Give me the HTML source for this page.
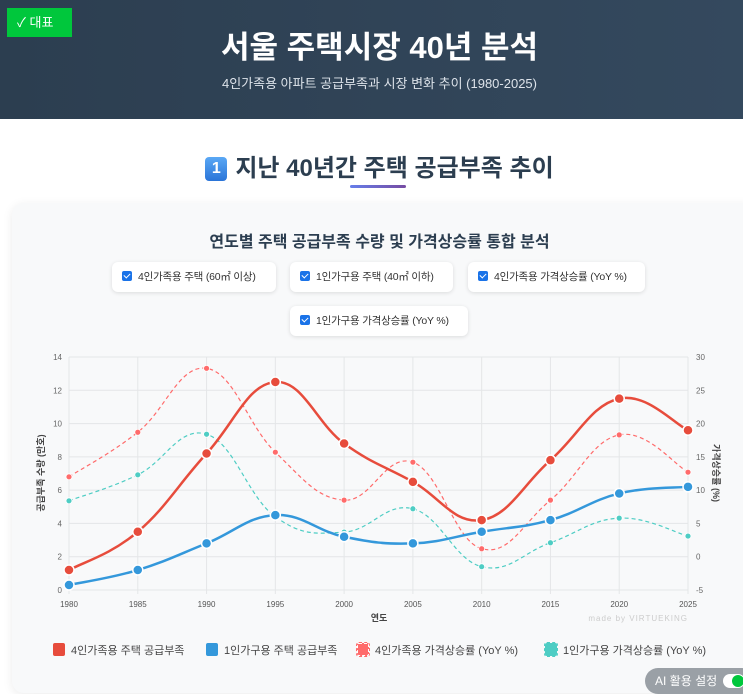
<!DOCTYPE html>
<html><head><meta charset="utf-8">
<style>
*{margin:0;padding:0;box-sizing:border-box}
body{width:743px;height:692px;overflow:hidden;background:#fff;font-family:"Liberation Sans","Noto Sans CJK KR",sans-serif;position:relative}
.hdr{position:absolute;left:0;top:0;width:743px;height:119px;background:linear-gradient(90deg,#2c3e50,#34495e);color:#fff;text-align:center}
.hdr h1{position:absolute;top:22px;left:8px;width:100%;font-size:31px;font-weight:bold}
.hdr p{position:absolute;top:73px;left:8px;width:100%;font-size:13px;color:#dde3ea}
.badge{position:absolute;left:7px;top:8px;width:65px;height:29px;background:#00c73c;color:#fff;font-size:13px;line-height:29px;padding-left:10px}
.sec{position:absolute;top:148px;left:8px;width:100%;text-align:center;font-size:24px;font-weight:bold;color:#2c3e50}
.num{display:inline-block;width:22px;height:24px;background:linear-gradient(#5aa8f5,#2a74d8);color:#fff;border-radius:4px;font-size:16px;line-height:24px;vertical-align:3px;margin-right:8px}
.uline{position:absolute;left:350px;top:185px;width:56px;height:3px;background:linear-gradient(90deg,#667eea,#764ba2);border-radius:2px}
.card{position:absolute;left:12px;top:203px;width:745px;height:490px;background:#f8f9fa;border-radius:12px;box-shadow:0 2px 10px rgba(0,0,0,.08)}
.ct{position:absolute;top:228px;width:743px;left:8px;text-align:center;font-size:16px;font-weight:bold;color:#2c3e50}
.cb{position:absolute;height:30px;background:#fff;border-radius:6px;box-shadow:0 1px 4px rgba(0,0,0,.12);font-size:10.5px;color:#333;line-height:30px;padding-left:10px;white-space:nowrap;overflow:hidden;letter-spacing:-0.2px}
.cb i{display:inline-block;width:10px;height:10px;background:#1a73e8;border-radius:2px;vertical-align:-1px;margin-right:6px;position:relative}
.cb i:after{content:"";position:absolute;left:3px;top:1px;width:3px;height:5px;border:solid #fff;border-width:0 1.5px 1.5px 0;transform:rotate(45deg)}
.lg{position:absolute;top:643px;font-size:11px;color:#444;line-height:14px;white-space:nowrap}
.lg b{display:inline-block;width:12px;height:13px;vertical-align:-2px;margin-right:6px;border-radius:2px}
.ai{position:absolute;left:645px;top:668px;width:110px;height:26px;background:#9aa0a6;border-radius:13px;color:#fff;font-size:12px;line-height:26px;padding-left:10px}
.tg{position:absolute;left:78px;top:6px;width:22px;height:14px;background:#fff;border-radius:7px}
.tg:after{content:"";position:absolute;right:1px;top:1px;width:12px;height:12px;background:#00c73c;border-radius:6px}
</style></head><body>
<div class="hdr">
<h1>서울 주택시장 40년 분석</h1>
<p>4인가족용 아파트 공급부족과 시장 변화 추이 (1980-2025)</p>
</div>
<div class="badge">✓ 대표</div>
<div class="sec"><span class="num">1</span>지난 40년간 주택 공급부족 추이</div>
<div class="uline"></div>
<div class="card"></div>
<div class="ct">연도별 주택 공급부족 수량 및 가격상승률 통합 분석</div>
<div class="cb" style="left:112px;top:262px;width:164px"><i></i>4인가족용 주택 (60㎡ 이상)</div>
<div class="cb" style="left:290px;top:262px;width:163px"><i></i>1인가구용 주택 (40㎡ 이하)</div>
<div class="cb" style="left:468px;top:262px;width:177px"><i></i>4인가족용 가격상승률 (YoY %)</div>
<div class="cb" style="left:290px;top:306px;width:178px"><i></i>1인가구용 가격상승률 (YoY %)</div>
<svg id="ch" width="743" height="692" style="position:absolute;left:0;top:0"></svg>
<div class="lg" style="left:53px"><b style="background:#e74c3c"></b>4인가족용 주택 공급부족</div>
<div class="lg" style="left:206px"><b style="background:#3498db"></b>1인가구용 주택 공급부족</div>
<div class="lg" style="left:357px"><b style="background:#ff6b6b;border:1px dashed #fff;outline:1px dashed #ff6b6b"></b>4인가족용 가격상승률 (YoY %)</div>
<div class="lg" style="left:545px"><b style="background:#4ecdc4;outline:1px dashed #4ecdc4"></b>1인가구용 가격상승률 (YoY %)</div>
<div class="ai">AI 활용 설정<span class="tg"></span></div>
<script>
const years=[1980,1985,1990,1995,2000,2005,2010,2015,2020,2025];
const supply4=[1.2,3.5,8.2,12.5,8.8,6.5,4.2,7.8,11.5,9.6];
const supply1=[0.3,1.2,2.8,4.5,3.2,2.8,3.5,4.2,5.8,6.2];
const price4=[12,18.7,28.3,15.7,8.5,14.2,1.2,8.5,18.3,12.7];
const price1=[8.4,12.3,18.4,6,3.7,7.2,-1.5,2.1,5.8,3.1];
const leftTicks=[0,2,4,6,8,10,12,14];
const rightTicks=[-5,0,5,10,15,20,25,30];
const X0=69,X1=688,YT=357,YB=590;
const xs=y=>X0+(y-1980)/(2025-1980)*(X1-X0);
const yl=v=>YB-v/14*(YB-YT);
const yr=v=>YB-(v+5)/35*(YB-YT);
const svg=document.getElementById('ch');const NS='http://www.w3.org/2000/svg';
function mk(t,a,txt){const e=document.createElementNS(NS,t);for(const k in a)e.setAttribute(k,a[k]);if(txt!=null)e.textContent=txt;svg.appendChild(e);return e;}
leftTicks.forEach(v=>{
const l=mk('line',{x1:X0,x2:X1,y1:yl(v),y2:yl(v),stroke:'#e4e6e8','stroke-width':1});


const t=mk('text',{x:62,y:yl(v)+3,'text-anchor':'end','font-size':8,fill:'#666'},v);


});
rightTicks.forEach(v=>{
const t=mk('text',{x:696,y:yr(v)+3,'font-size':8,fill:'#666'},v);


});
years.forEach(y=>{
const l=mk('line',{x1:xs(y),x2:xs(y),y1:YT,y2:YB+4,stroke:'#e4e6e8','stroke-width':1});


const t=mk('text',{x:xs(y),y:607,'text-anchor':'middle','font-size':8,fill:'#555'},y);


});
let t=mk('text',{x:379,y:621,'text-anchor':'middle','font-size':9,'font-weight':'bold',fill:'#444'},'연도');

t=mk('text',{x:0,y:0,'text-anchor':'middle','font-size':9,'font-weight':'bold',fill:'#444',transform:'translate(44,473) rotate(-90)'},'공급부족 수량 (만호)');

t=mk('text',{x:0,y:0,'text-anchor':'middle','font-size':9,'font-weight':'bold',fill:'#444',transform:'translate(713,473) rotate(90)'},'가격상승률 (%)');

t=mk('text',{x:688,y:621,'text-anchor':'end','font-size':8,fill:'#ccc','letter-spacing':1},'made by VIRTUEKING');

function path(pts){let d='M'+pts[0][0]+','+pts[0][1];const k=0.2;
for(let i=0;i<pts.length-1;i++){const p0=pts[Math.max(0,i-1)],p1=pts[i],p2=pts[i+1],p3=pts[Math.min(pts.length-1,i+2)];
d+=' C'+(p1[0]+(p2[0]-p0[0])*k)+','+(p1[1]+(p2[1]-p0[1])*k)+' '+(p2[0]-(p3[0]-p1[0])*k)+','+(p2[1]-(p3[1]-p1[1])*k)+' '+p2[0]+','+p2[1];}return d;}
function series(vals,f,col,w,dash,r,name){
const pts=vals.map((v,i)=>[xs(years[i]),f(v)]);
const p=mk('path',{d:path(pts),fill:'none',stroke:col,'stroke-width':w,'stroke-dasharray':dash||'none'});


pts.forEach(q=>{const c=mk('circle',{cx:q[0],cy:q[1],r:r,fill:col,stroke:'#fff','stroke-width':dash?0.8:1.5});

});
}
series(price4,yr,'#ff6b6b',1.2,'4 3',3,'price-4person');
series(price1,yr,'#4ecdc4',1.2,'4 3',3,'price-1person');
series(supply1,yl,'#3498db',2.5,null,5,'supply-1person');
series(supply4,yl,'#e74c3c',2.5,null,5,'supply-4person');
</script>
</body></html>
